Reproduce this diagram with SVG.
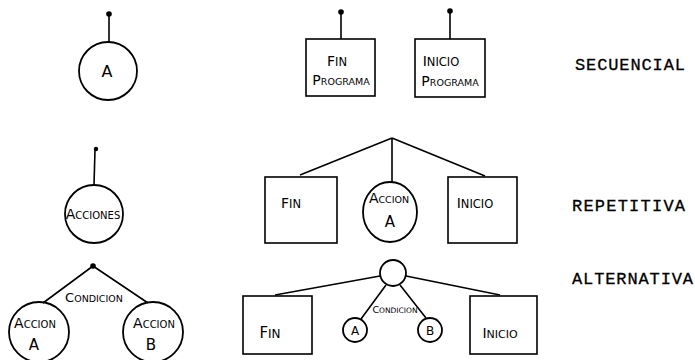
<svg xmlns="http://www.w3.org/2000/svg" width="695" height="360" viewBox="0 0 695 360">
<style>
.n{fill:none;stroke:#000;stroke-width:1.8}
.b{fill:none;stroke:#000;stroke-width:1.6}
.c{fill:none;stroke:#000;stroke-width:1.6}
.d{fill:#000}
.t{font-family:"DejaVu Sans","Liberation Sans",sans-serif;font-size:11.5px;fill:#000;text-anchor:middle}
.big{font-size:14px}
.lab{font-family:"Liberation Mono","DejaVu Sans Mono",monospace;font-size:17px;fill:#000;stroke:#000;stroke-width:0.3}
</style>
<rect width="695" height="360" fill="#fff"/>
<g id="connectors">
<line class="c" x1="109" y1="14" x2="109" y2="42"/><circle class="d" cx="109" cy="14" r="2.8"/>
<line class="c" x1="341" y1="12" x2="341" y2="39"/><circle class="d" cx="341" cy="12" r="2.8"/>
<line class="c" x1="450" y1="11" x2="450" y2="39"/><circle class="d" cx="450" cy="11" r="2.8"/>
<line class="c" x1="95" y1="150" x2="94" y2="185"/><circle class="d" cx="96" cy="149" r="2.2"/>
<path class="c" d="M392 138 L300 175 M392 138 L392 182 M392 138 L485 176"/>
<path class="c" d="M93 266 L43 303 M93 266 L148 303"/><circle class="d" cx="93" cy="266" r="2.8"/>
<path class="c" d="M380 276 L275 295 M406 276 L500 295 M386 285 L361 319 M400 285 L426 318"/>
</g>
<g id="nodeA"><circle class="n" cx="108" cy="71" r="29"/><text class="t" x="107" y="77" style="font-size:16px">A</text></g>
<g id="finPrograma"><rect class="b" x="306" y="39" width="69" height="57"/>
<text class="t" x="337" y="66"><tspan class="big">F</tspan>IN</text>
<text class="t" x="341" y="85" style="font-size:9.5px"><tspan class="big">P</tspan>ROGRAMA</text></g>
<g id="inicioPrograma"><rect class="b" x="415" y="39" width="70" height="58"/>
<text class="t" x="441" y="66"><tspan class="big">I</tspan>NICIO</text>
<text class="t" x="450" y="86" style="font-size:9.5px"><tspan class="big">P</tspan>ROGRAMA</text></g>
<text class="lab" x="575" y="70" textLength="110">SECUENCIAL</text>
<g id="acciones"><circle class="n" cx="94" cy="214" r="29"/>
<text class="t" x="93" y="219" style="font-size:10px"><tspan class="big">A</tspan>CCIONES</text></g>
<g id="finRep"><rect class="b" x="265" y="177" width="72" height="66"/>
<text class="t" x="291" y="208"><tspan class="big">F</tspan>IN</text></g>
<g id="accionA"><ellipse class="n" cx="390" cy="212" rx="27" ry="30"/>
<text class="t" x="389" y="203" style="font-size:9.5px"><tspan class="big">A</tspan>CCION</text>
<text class="t" x="390" y="227" style="font-size:15px">A</text></g>
<g id="inicioRep"><rect class="b" x="448" y="177" width="69" height="66"/>
<text class="t" x="475" y="208"><tspan class="big">I</tspan>NICIO</text></g>
<text class="lab" x="572" y="211" textLength="113">REPETITIVA</text>
<text class="t" x="94" y="302" style="font-size:9.5px"><tspan style="font-size:13px">C</tspan>ONDICION</text>
<g id="accionA2"><circle class="n" cx="39" cy="332" r="30"/>
<text class="t" x="35" y="328" style="font-size:10px"><tspan class="big">A</tspan>CCION</text>
<text class="t" x="34" y="350" style="font-size:15px">A</text></g>
<g id="accionB"><circle class="n" cx="153" cy="332" r="30"/>
<text class="t" x="154" y="328" style="font-size:10px"><tspan class="big">A</tspan>CCION</text>
<text class="t" x="151" y="350" style="font-size:15px">B</text></g>
<g id="condCircle"><circle class="n" cx="393" cy="273" r="13"/></g>
<g id="finAlt"><rect class="b" x="243" y="296" width="69" height="58"/>
<text class="t" x="270" y="338" style="font-size:12px"><tspan style="font-size:15px">F</tspan>IN</text></g>
<text class="t" x="395" y="313" style="font-size:7.5px"><tspan style="font-size:9.5px">C</tspan>ONDICION</text>
<g id="altA"><circle class="n" cx="355" cy="330" r="12"/><text class="t" x="355" y="334.5" style="font-size:12px">A</text></g>
<g id="altB"><circle class="n" cx="430" cy="330" r="12"/><text class="t" x="430" y="334.5" style="font-size:12px">B</text></g>
<g id="inicioAlt"><rect class="b" x="470" y="296" width="67" height="58"/>
<text class="t" x="500" y="338" style="font-size:11px"><tspan style="font-size:14px">I</tspan>NICIO</text></g>
<text class="lab" x="572" y="284" textLength="121">ALTERNATIVA</text>
</svg>
